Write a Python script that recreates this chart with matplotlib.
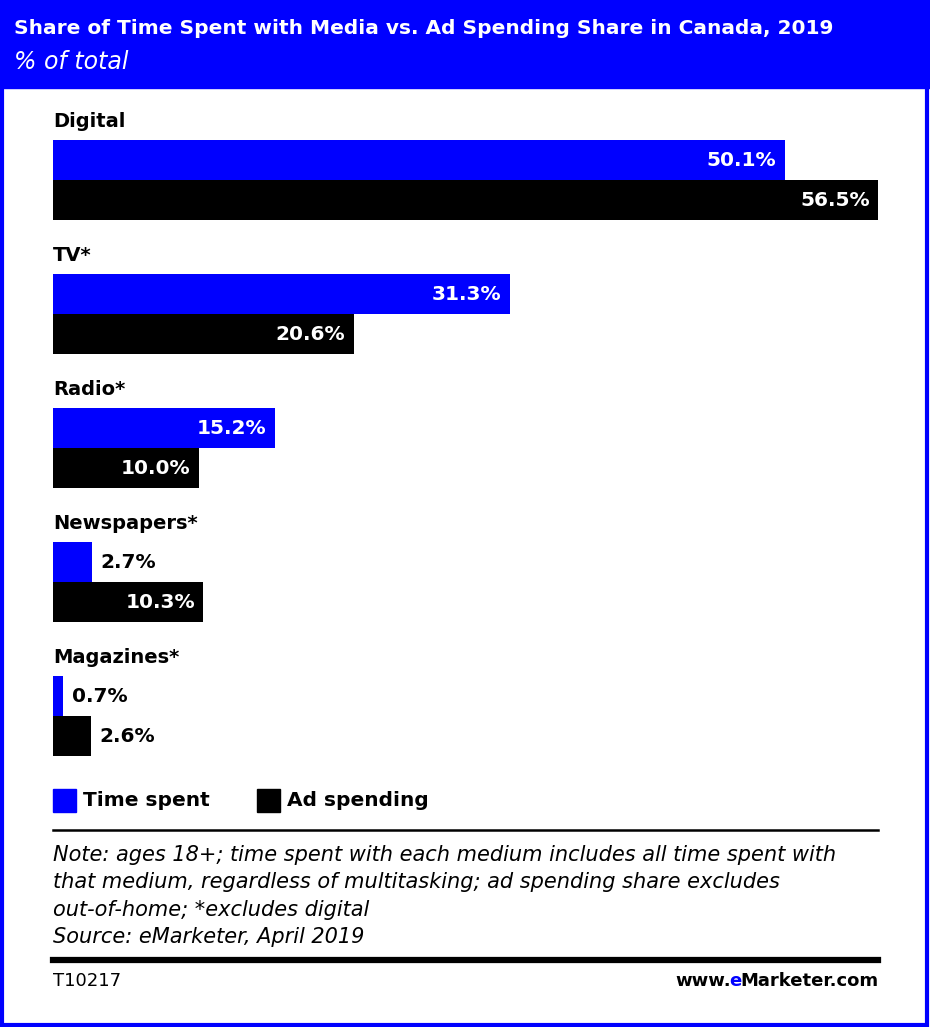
import matplotlib
matplotlib.use("Agg")
import matplotlib.pyplot as plt
from matplotlib.patches import Rectangle

# data
categories = ["Digital", "TV*", "Radio*", "Newspapers*", "Magazines*"]
time_spent = [50.1, 31.3, 15.2, 2.7, 0.7]
ad_spending = [56.5, 20.6, 10.0, 10.3, 2.6]
series_names = ["Time spent", "Ad spending"]

BLUE = "#0000ff"
W, H = 930, 1027

fig = plt.figure(figsize=(W / 100, H / 100), dpi=100)


def fx(px):
    return px / W


def fy(py):
    return 1 - py / H


sans = ["DejaVu Sans"]

# header band and border
fig.patches.append(Rectangle((0, fy(88)), 1, 88 / H, transform=fig.transFigure,
                             color=BLUE, zorder=0))
fig.patches.append(Rectangle((fx(2), fy(1025)), fx(925), 1023 / H, transform=fig.transFigure,
                             fill=False, edgecolor=BLUE, lw=3, zorder=0))
fig.text(fx(14), fy(29), "Share of Time Spent with Media vs. Ad Spending Share in Canada, 2019",
         color="white", fontsize=14.5, fontweight="bold", family=sans, va="center")
fig.text(fx(14), fy(62), "% of total", color="white", fontsize=17, style="italic",
         family=sans, va="center")

# bars
ax = fig.add_axes([fx(53), fy(770), fx(825), 670 / H])
ax.set_xlim(0, max(ad_spending))
ax.set_ylim(4.552, -0.448)
ax.axis("off")
bh = 0.3
for i, cat in enumerate(categories):
    for j, (vals, col) in enumerate([(time_spent, BLUE), (ad_spending, "black")]):
        v = vals[i]
        y = i + j * bh
        ax.barh(y, v, height=bh, color=col, linewidth=0)
        if v >= 5:
            ax.annotate(f"{v:.1f}%", (v, y), xytext=(-6, 0), textcoords="offset points",
                        ha="right", va="center", color="white", fontsize=14.5,
                        fontweight="bold", family=sans)
        else:
            ax.annotate(f"{v:.1f}%", (v, y), xytext=(6, 0), textcoords="offset points",
                        ha="left", va="center", color="black", fontsize=14.5,
                        fontweight="bold", family=sans)
    ax.text(0, i - 0.29, cat, ha="left", va="center", fontsize=14,
            fontweight="bold", family=sans)

# legend
for (name, col, x0) in [(series_names[0], BLUE, 53), (series_names[1], "black", 257)]:
    fig.patches.append(Rectangle((fx(x0), fy(812)), fx(23), 23 / H,
                                 transform=fig.transFigure, color=col))
    fig.text(fx(x0 + 30), fy(801), name, fontsize=14.5, fontweight="bold",
             family=sans, va="center")

# footer
fig.add_artist(plt.Line2D([fx(53), fx(878)], [fy(830), fy(830)], color="black", lw=1.8))
notes = ["Note: ages 18+; time spent with each medium includes all time spent with",
         "that medium, regardless of multitasking; ad spending share excludes",
         "out-of-home; *excludes digital",
         "Source: eMarketer, April 2019"]
for k, line in enumerate(notes):
    fig.text(fx(53), fy(855 + k * 27.3), line, fontsize=15, style="italic",
             family=sans, va="center")
fig.add_artist(plt.Line2D([fx(53), fx(878)], [fy(960), fy(960)], color="black", lw=4.5))
fig.text(fx(53), fy(981), "T10217", fontsize=13, family=sans, va="center")

# "www.eMarketer.com" with a blue "e"
r = fig.canvas.get_renderer()
tail = fig.text(fx(878), fy(981), "Marketer.com", fontsize=13, fontweight="bold",
                family=sans, va="center", ha="right")
x_e = (tail.get_window_extent(r).x0 + 2) / W
e = fig.text(x_e, fy(981), "e", fontsize=13, fontweight="bold", family=sans,
             va="center", ha="right", color=BLUE)
x_w = (e.get_window_extent(r).x0 + 1) / W
fig.text(x_w, fy(981), "www.", fontsize=13, fontweight="bold", family=sans,
         va="center", ha="right")

fig.savefig("out.png", dpi=100)
